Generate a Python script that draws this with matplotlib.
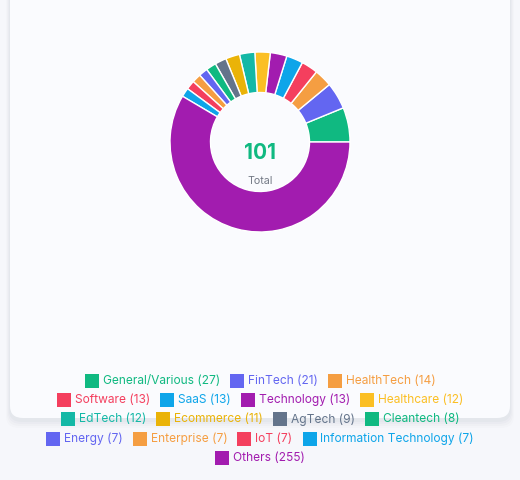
import matplotlib
matplotlib.use("Agg")
import matplotlib.pyplot as plt
from matplotlib.patches import FancyBboxPatch, Rectangle

# data
labels = ["General/Various", "FinTech", "HealthTech", "Software", "SaaS", "Technology",
          "Healthcare", "EdTech", "Ecommerce", "AgTech", "Cleantech", "Energy",
          "Enterprise", "IoT", "Information Technology", "Others"]
counts = [27, 21, 14, 13, 13, 13, 12, 12, 11, 9, 8, 7, 7, 7, 7, 255]
colors = ["#10b981", "#6366f1", "#f59e42", "#f43f5e", "#0ea5e9", "#a21caf",
          "#fbbf24", "#14b8a6", "#eab308", "#64748b", "#10b981", "#6366f1",
          "#f59e42", "#f43f5e", "#0ea5e9", "#a21caf"]
total_label = "101"

W, H = 520, 480
plt.rcParams['font.family'] = ['Inter', 'DejaVu Sans']
fig = plt.figure(figsize=(W / 100, H / 100), dpi=100)
fig.patch.set_facecolor("#f6f7fb")


def px(x, y):
    # pixel coords (top-left origin) -> figure fraction
    return x / W, 1 - y / H


# card with soft shadow
for i, a in enumerate([0.025, 0.02, 0.015, 0.01]):
    g = 2 + i * 2
    fig.patches.append(FancyBboxPatch(((10 - g / 2) / W, 1 - (420 + g) / H),
                                      (500 + g) / W, 440 / H,
                                      boxstyle="round,pad=0,rounding_size=0.025",
                                      transform=fig.transFigure, facecolor="#1e293b",
                                      edgecolor="none", alpha=a, zorder=0))
fig.patches.append(FancyBboxPatch((10 / W, 1 - 418 / H), 500 / W, 440 / H,
                                  boxstyle="round,pad=0,rounding_size=0.025",
                                  transform=fig.transFigure, facecolor="#fafbfe",
                                  edgecolor="none", zorder=1))

# donut
cx, cy, r = 260, 142, 90
ax = fig.add_axes([(cx - r) / W, 1 - (cy + r) / H, 2 * r / W, 2 * r / H])
ax.pie(counts, colors=colors, startangle=0, counterclock=True, radius=1,
       wedgeprops=dict(width=0.45, edgecolor="white", linewidth=1.0))
ax.set_xlim(-1, 1)
ax.set_ylim(-1, 1)
ax.set_aspect("equal")
ax.axis("off")
ax.set_zorder(2)

fig.text(*px(cx, 153), total_label, ha="center", va="center", fontsize=15,
         fontweight="bold", color="#10b981", zorder=3)
fig.text(*px(cx, 181), "Total", ha="center", va="center", fontsize=7.7,
         color="#737985", zorder=3)

# legend (centered rows, like the web chart legend)
fs = 8.6
box, gap, sep, max_w = 14, 4, 10, 440
renderer = fig.canvas.get_renderer()
items = []
for lab, n, c in zip(labels, counts, colors):
    s = f"{lab} ({n})"
    t = fig.text(0, 0, s, fontsize=fs)
    w = t.get_window_extent(renderer).width
    t.remove()
    items.append((s, c, box + gap + w))

rows, cur, cur_w = [], [], 0
for it in items:
    add = it[2] + (sep if cur else 0)
    if cur and cur_w + add > max_w:
        rows.append((cur, cur_w))
        cur, cur_w = [], 0
        add = it[2]
    cur.append(it)
    cur_w += add
rows.append((cur, cur_w))

y0, dy = 381, 19.2
for k, (row, rw) in enumerate(rows):
    y = y0 + k * dy
    x = W / 2 - rw / 2
    for s, c, w in row:
        fig.patches.append(Rectangle((x / W, 1 - (y + box / 2) / H), box / W, box / H,
                                     transform=fig.transFigure, facecolor=c,
                                     edgecolor="none", zorder=3))
        fig.text(*px(x + box + gap, y), s, fontsize=fs, color=c, ha="left",
                 va="center", zorder=3)
        x += w + sep

fig.savefig("out.png", dpi=100, facecolor=fig.get_facecolor())
